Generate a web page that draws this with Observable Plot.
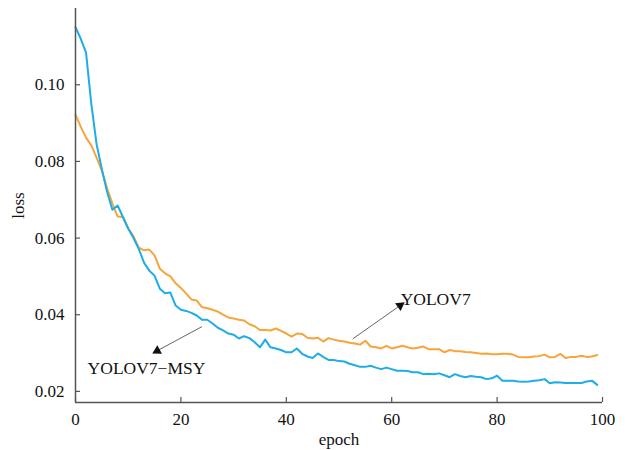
<!DOCTYPE html>
<html>
<head>
<meta charset="utf-8">
<script src="https://cdn.jsdelivr.net/npm/d3@7"></script>
<script src="https://cdn.jsdelivr.net/npm/@observablehq/plot@0.6"></script>
<style>
  html, body { margin: 0; padding: 0; background: #fff; }
  svg { display: block; }
</style>
</head>
<body>
<div id="chart"></div>
<script>
const epochs = d3.range(0, 100);
const yolov7 = [
  0.0922, 0.0890, 0.0862, 0.0842, 0.0810, 0.0776, 0.0730, 0.0690, 0.0656, 0.0655,
  0.0625, 0.0605, 0.0575, 0.0568, 0.0570, 0.0555, 0.0520, 0.0508, 0.0500, 0.0482,
  0.0470, 0.0455, 0.0440, 0.0437, 0.0420, 0.0417, 0.0413, 0.0408, 0.0400, 0.0393,
  0.0390, 0.0387, 0.0385, 0.0375, 0.0370, 0.0360, 0.0360, 0.0359, 0.0364, 0.0358,
  0.0351, 0.0343, 0.0351, 0.0350, 0.0340, 0.0338, 0.0340, 0.0330, 0.0339, 0.0335,
  0.0332, 0.0330, 0.0327, 0.0325, 0.0322, 0.0332, 0.0317, 0.0315, 0.0312, 0.0319,
  0.0312, 0.0315, 0.0319, 0.0315, 0.0312, 0.0314, 0.0317, 0.0310, 0.0310, 0.0310,
  0.0302, 0.0308, 0.0305, 0.0305, 0.0303, 0.0302, 0.0300, 0.0298, 0.0299, 0.0297,
  0.0297, 0.0298, 0.0298, 0.0296, 0.0290, 0.0289, 0.0289, 0.0291, 0.0292, 0.0296,
  0.0289, 0.0290, 0.0298, 0.0287, 0.0290, 0.0290, 0.0293, 0.0290, 0.0291, 0.0295
];
const yolov7msy = [
  0.1150, 0.1120, 0.1084, 0.0950, 0.0845, 0.0780, 0.0720, 0.0674, 0.0685, 0.0655,
  0.0625, 0.0600, 0.0572, 0.0536, 0.0515, 0.0502, 0.0468, 0.0456, 0.0458, 0.0424,
  0.0413, 0.0410, 0.0405, 0.0398, 0.0387, 0.0387, 0.0377, 0.0366, 0.0359, 0.0351,
  0.0348, 0.0338, 0.0344, 0.0339, 0.0328, 0.0315, 0.0335, 0.0315, 0.0312, 0.0308,
  0.0302, 0.0302, 0.0312, 0.0298, 0.0291, 0.0287, 0.0299, 0.0290, 0.0282, 0.0282,
  0.0279, 0.0278, 0.0272, 0.0268, 0.0264, 0.0264, 0.0267, 0.0262, 0.0258, 0.0262,
  0.0258, 0.0254, 0.0254, 0.0253, 0.0250, 0.0250, 0.0245, 0.0246, 0.0245, 0.0247,
  0.0242, 0.0237, 0.0245, 0.0240, 0.0237, 0.0240, 0.0238, 0.0237, 0.0232, 0.0234,
  0.0241, 0.0228, 0.0228, 0.0228, 0.0226, 0.0225, 0.0226, 0.0228, 0.0229, 0.0232,
  0.0221, 0.0224, 0.0223, 0.0222, 0.0222, 0.0222, 0.0222, 0.0226, 0.0228, 0.0217
];
const xTicks = [0, 20, 40, 60, 80, 100];
const yTicks = [0.02, 0.04, 0.06, 0.08, 0.10];
const xDomain = [0, 100];
const yDomain = [0.0171, 0.1199];

// annotations: label, text anchor point, arrow from -> to
const annLabels = ["YOLOV7", "YOLOV7\u2212MSY"];
const annTextX = [61.7, 2.3];
const annTextY = [0.0426, 0.0246];
const annFromX = [52.6, 24.0];
const annFromY = [0.0337, 0.0369];
const annToX = [61.6, 15.5];
const annToY = [0.0424, 0.0306];

const W = 630, H = 450;
const mL = 75, mR = 28, mT = 8, mB = 48;
const kx = (W - mL - mR) / (xDomain[1] - xDomain[0]);
const ky = (H - mT - mB) / (yDomain[1] - yDomain[0]);

const lineData = [];
epochs.forEach((e, i) => {
  lineData.push({epoch: e, loss: yolov7[i], series: "YOLOV7"});
});
epochs.forEach((e, i) => {
  lineData.push({epoch: e, loss: yolov7msy[i], series: "YOLOV7-MSY"});
});

const ann = annLabels.map((label, i) => {
  const dxs = (annToX[i] - annFromX[i]) * kx;
  const dys = -(annToY[i] - annFromY[i]) * ky;
  const angle = Math.atan2(dxs, -dys) * 180 / Math.PI;
  return {
    label, tx: annTextX[i], ty: annTextY[i],
    x1: annFromX[i], y1: annFromY[i], x2: annToX[i], y2: annToY[i], angle
  };
});

const font = "'Liberation Serif', 'Times New Roman', serif";
const axisColor = "#555";

const chart = Plot.plot({
  width: W,
  height: H,
  marginLeft: mL,
  marginRight: mR,
  marginTop: mT,
  marginBottom: mB,
  style: {fontFamily: font, fontSize: "17px", color: "#111", background: "#fff"},
  x: {domain: xDomain},
  y: {domain: yDomain},
  marks: [
    Plot.line(lineData, {
      x: "epoch", y: "loss", z: "series",
      stroke: "series",
      strokeWidth: 2
    }),
    Plot.ruleX([xDomain[0]], {stroke: axisColor, strokeWidth: 1.5}),
    Plot.ruleY([yDomain[0]], {stroke: axisColor, strokeWidth: 1.5}),
    // inward ticks
    Plot.axisY({ticks: yTicks, tickSize: 5, dx: 5, tickFormat: () => "", stroke: axisColor, strokeWidth: 1.2, label: null}),
    Plot.axisX({ticks: xTicks, tickSize: 5, dy: -5, tickFormat: () => "", stroke: axisColor, strokeWidth: 1.2, label: null}),
    // labels
    Plot.axisY({ticks: yTicks, tickSize: 0, tickPadding: 11, tickFormat: d3.format(".2f"),
      label: "loss", labelAnchor: "center", labelArrow: "none", labelOffset: 64, fontSize: 17}),
    Plot.axisX({ticks: xTicks, tickSize: 0, tickPadding: 10, tickFormat: d3.format("d"),
      label: "epoch", labelAnchor: "center", labelArrow: "none", labelOffset: 42, fontSize: 17}),
    // annotation arrows
    Plot.link(ann, {x1: "x1", y1: "y1", x2: "x2", y2: "y2", stroke: "#555", strokeWidth: 0.9}),
    Plot.dot(ann, {x: "x2", y: "y2", symbol: "triangle", r: 3.6, fill: "#111", stroke: "none", rotate: "angle"}),
    Plot.text(ann, {x: "tx", y: "ty", text: "label", textAnchor: "start", lineAnchor: "bottom",
      fontSize: 17.5, fill: "#111"})
  ],
  color: {domain: ["YOLOV7", "YOLOV7-MSY"], range: ["#F7A43B", "#1EADE4"]}
});

document.getElementById("chart").appendChild(chart);
</script>
</body>
</html>
